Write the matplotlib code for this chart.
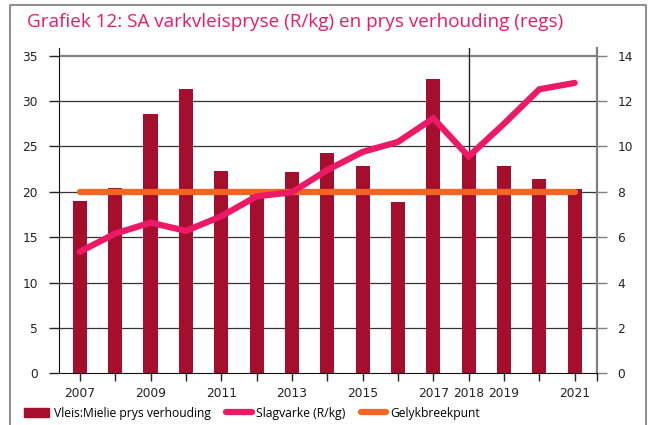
import matplotlib
matplotlib.use("Agg")
from matplotlib import pyplot as plt
from matplotlib.lines import Line2D
from matplotlib.patches import Patch

years = list(range(2007, 2022))
labelled = [2007, 2009, 2011, 2013, 2015, 2017, 2018, 2019, 2021]
# ratio on right axis
ratio = [7.6, 8.17, 11.43, 12.53, 8.92, 8.12, 8.87, 9.71, 9.14, 7.55, 12.97, 9.7, 9.14, 8.56, 8.12]
# pig price R/kg on left axis
slagvarke = [13.4, 15.4, 16.6, 15.7, 17.3, 19.5, 19.95, 22.4, 24.4, 25.5, 28.1, 23.9, 27.5, 31.3, 32.0]
breakeven = [8] * len(years)

bar_col = "#A50E2D"
pink = "#EC1A66"
orange = "#F26522"

fig = plt.figure(figsize=(6.52, 4.25), dpi=100)
ax1 = fig.add_axes([0.090, 0.1216, 0.825, 0.7655])
ax2 = ax1.twinx()

# back axes (right): grid, bars, break-even line
ax2.set_zorder(1)
ax1.set_zorder(2)
ax1.patch.set_visible(False)

ax2.bar(years, ratio, width=0.4, color=bar_col, zorder=3)
ax2.plot(years, breakeven, color=orange, lw=4.5, solid_capstyle="round", zorder=4)
ax2.set_ylim(0, 35.85 / 2.5)
ax2.set_yticks(range(0, 15, 2))
for v in range(2, 13, 2):
    ax2.axhline(v, color="#333333", lw=0.9, zorder=1)
ax2.axhline(14, color="#808080", lw=1.6, zorder=1)
ax2.axvline(2018, color="#222222", lw=1.0, zorder=1)

ax1.plot(years, slagvarke, color=pink, lw=4.5, solid_capstyle="round", solid_joinstyle="miter")
ax1.set_ylim(0, 35.85)
ax1.set_yticks(range(0, 36, 5))
ax1.set_xlim(2006.4, 2021.62)

ticks = years + [2021.62]
ax1.set_xticks(ticks)
ax1.set_xticklabels([str(y) if y in labelled else "" for y in years] + [""])

for ax in (ax1, ax2):
    ax.spines["top"].set_visible(False)
    ax.tick_params(labelsize=8.8, colors="#222222", length=6, width=1)
ax1.tick_params(axis="x", length=6, pad=4)
ax1.tick_params(axis="y", pad=8, length=7)
ax2.tick_params(axis="y", pad=8, length=7, color="#808080", labelcolor="#222222")
ax1.spines["left"].set_color("#111111")
ax1.spines["bottom"].set_color("#111111")
ax1.spines["right"].set_visible(False)
ax2.spines["left"].set_visible(False)
ax2.spines["bottom"].set_visible(False)
ax2.spines["right"].set_color("#808080")
ax2.spines["right"].set_linewidth(1.6)

# title and frame
fig.text(27 / 652, 1 - 22 / 425, "Grafiek 12: SA varkvleispryse (R/kg) en prys verhouding (regs)",
         color=pink, fontsize=13.6, family="Open Sans", va="center", ha="left")
fx = [10 / 652, 10 / 652, 646 / 652, 646 / 652]
fy = [0, 1 - 5 / 425, 1 - 5 / 425, 0]
fig.add_artist(Line2D(fx, fy, color="#909090", lw=1.5, transform=fig.transFigure))

handles = [
    Patch(color=bar_col, label="Vleis:Mielie prys verhouding"),
    Line2D([], [], color=pink, lw=4.5, solid_capstyle="round", label="Slagvarke (R/kg)"),
    Line2D([], [], color=orange, lw=4.5, solid_capstyle="round", label="Gelykbreekpunt"),
]
fig.legend(handles=handles, loc="center left", bbox_to_anchor=(24 / 652, 1 - 413 / 425), ncol=3,
           frameon=False, prop={"family": "Open Sans", "size": 8.7}, handlelength=2.1,
           handletextpad=0.35, columnspacing=1.3, borderaxespad=0, borderpad=0)

fig.savefig("out.png", dpi=100)
